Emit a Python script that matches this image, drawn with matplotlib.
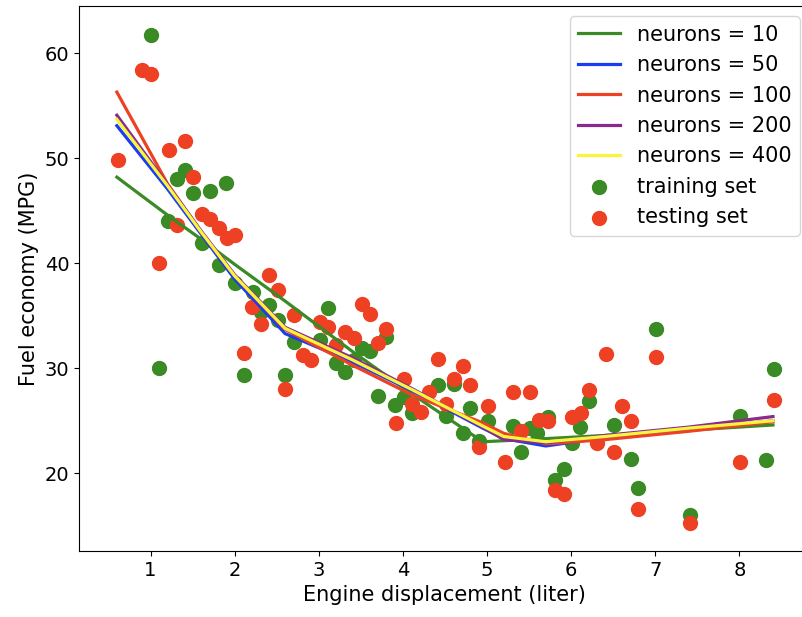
import numpy as np
import matplotlib
matplotlib.use("Agg")
import matplotlib.pyplot as plt

# training set (green dots)
train_x = [1.00, 1.10, 1.21, 1.31, 1.41, 1.51, 1.61, 1.71, 1.81, 1.90,
           2.00, 2.11, 2.22, 2.31, 2.41, 2.51, 2.60, 2.71, 3.01, 3.11,
           3.21, 3.31, 3.42, 3.52, 3.61, 3.71, 3.80, 3.91, 4.01, 4.11,
           4.42, 4.51, 4.61, 4.71, 4.80, 4.91, 5.01, 5.31, 5.41, 5.51,
           5.60, 5.72, 5.81, 5.91, 6.01, 6.11, 6.21, 6.51, 6.71, 6.80,
           7.01, 7.41, 8.01, 8.32, 8.41]
train_y = [61.7, 30.0, 44.0, 48.0, 48.9, 46.7, 41.9, 46.9, 39.8, 47.6,
           38.1, 29.4, 37.3, 35.4, 36.0, 34.6, 29.4, 32.5, 32.7, 35.7,
           30.5, 29.6, 30.8, 31.9, 31.6, 27.4, 33.0, 26.5, 27.3, 25.7,
           28.4, 25.5, 28.5, 23.8, 26.2, 23.1, 25.0, 24.5, 22.0, 24.3,
           23.8, 25.4, 19.4, 20.4, 22.9, 24.4, 26.9, 24.6, 21.4, 18.6,
           33.7, 16.0, 25.5, 21.3, 29.9]

# testing set (red dots)
test_x = [0.61, 0.90, 1.01, 1.10, 1.22, 1.31, 1.41, 1.51, 1.61, 1.71,
          1.81, 1.91, 2.01, 2.11, 2.21, 2.31, 2.41, 2.51, 2.60, 2.71,
          2.81, 2.91, 3.01, 3.11, 3.21, 3.31, 3.42, 3.51, 3.61, 3.71,
          3.80, 3.92, 4.01, 4.11, 4.21, 4.31, 4.42, 4.51, 4.61, 4.71,
          4.80, 4.91, 5.01, 5.21, 5.31, 5.41, 5.51, 5.62, 5.72, 5.81,
          5.91, 6.01, 6.12, 6.21, 6.31, 6.42, 6.51, 6.61, 6.71, 6.80,
          7.01, 7.41, 8.01, 8.41]
test_y = [49.8, 58.4, 58.0, 40.0, 50.8, 43.6, 51.6, 48.2, 44.7, 44.2,
          43.4, 42.4, 42.7, 31.5, 35.8, 34.2, 38.9, 37.5, 28.0, 35.1,
          31.3, 30.8, 34.4, 33.9, 32.2, 33.5, 32.9, 36.1, 35.2, 32.4,
          33.7, 24.8, 29.0, 26.6, 25.8, 27.7, 30.9, 26.6, 29.0, 30.2,
          28.4, 22.5, 26.4, 21.1, 27.7, 24.0, 27.7, 25.1, 25.0, 18.4,
          18.0, 25.4, 25.7, 27.9, 22.9, 31.4, 22.0, 26.4, 25.0, 16.6,
          31.1, 15.3, 21.1, 27.0]

# network predictions
pred_x = [0.6, 1.2, 1.6, 2.0, 2.6, 3.4, 4.1, 4.95, 5.2, 5.7, 6.4, 7.4, 8.4]
pred_10 = [48.2, 44.6, 42.3, 39.9, 36.4, 31.6, 27.6, 23.0, 23.1, 23.3, 23.6, 24.1, 24.6]
pred_50 = [53.1, 47.1, 42.8, 38.5, 33.3, 30.6, 27.9, 24.3, 23.3, 22.6, 23.4, 24.2, 25.0]
pred_100 = [56.3, 47.6, 43.0, 38.8, 33.7, 30.3, 27.5, 24.8, 23.8, 22.8, 23.2, 24.0, 24.9]
pred_200 = [54.1, 47.5, 43.1, 38.9, 33.9, 31.0, 28.1, 24.4, 23.2, 22.9, 23.6, 24.4, 25.4]
pred_400 = [53.7, 47.4, 43.0, 38.8, 33.8, 30.8, 28.0, 24.5, 23.5, 23.0, 23.5, 24.3, 25.0]

green = '#3a8a25'
red = '#ee4124'

fig = plt.figure(figsize=(8.03, 6.17), dpi=100)
# right spine sits just past the image edge, as in the original
ax = fig.add_axes([0.0984, 0.107, 0.9103, 0.8833])

ax.plot(pred_x, pred_10, color=green, lw=2.3, label='neurons = 10')
ax.plot(pred_x, pred_50, color='#1a3cf5', lw=2.3, label='neurons = 50')
ax.plot(pred_x, pred_100, color=red, lw=2.3, label='neurons = 100')
ax.plot(pred_x, pred_200, color='#8a2a8f', lw=2.3, label='neurons = 200')
ax.plot(pred_x, pred_400, color='#f8f53a', lw=2.3, label='neurons = 400')
ax.scatter(train_x, train_y, s=100, color=green, label='training set')
ax.scatter(test_x, test_y, s=100, color=red, label='testing set')

ax.set_xlim(0.15, 8.84)
ax.set_ylim(12.6, 64.5)
ax.set_xticks([1, 2, 3, 4, 5, 6, 7, 8])
ax.set_yticks([20, 30, 40, 50, 60])
ax.tick_params(labelsize=14)
ax.set_xlabel('Engine displacement (liter)', fontsize=15)
ax.set_ylabel('Fuel economy (MPG)', fontsize=15)
ax.legend(loc='upper right', fontsize=15)

fig.savefig('out.png', dpi=100)
